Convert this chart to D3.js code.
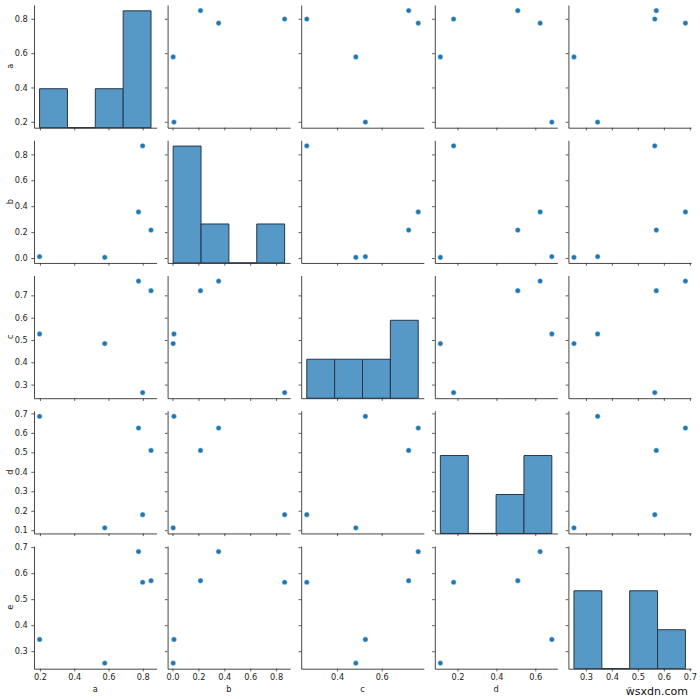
<!DOCTYPE html>
<html>
<head>
<meta charset="utf-8">
<script src="https://cdn.jsdelivr.net/npm/d3@7"></script>
<style>
  body { margin: 0; background: #fff; }
  text { font-family: "DejaVu Sans", sans-serif; }
</style>
</head>
<body>
<svg id="chart" width="700" height="699"></svg>
<script>
// variables of the pair grid, one value per observation
const VARS = ['a', 'b', 'c', 'd', 'e'];
const A = [0.198, 0.578, 0.775, 0.799, 0.848];
const B = [0.011, 0.005, 0.356, 0.866, 0.216];
const C = [0.527, 0.484, 0.764, 0.264, 0.721];
const D = [0.685, 0.112, 0.625, 0.180, 0.510];
const E = [0.345, 0.254, 0.683, 0.565, 0.571];

// tick labels per variable (x ticks are sparser, like matplotlib does it)
const A_XTICKS = [0.2, 0.4, 0.6, 0.8];
const B_XTICKS = [0.0, 0.2, 0.4, 0.6, 0.8];
const C_XTICKS = [0.4, 0.6];
const D_XTICKS = [0.2, 0.4, 0.6];
const E_XTICKS = [0.3, 0.4, 0.5, 0.6, 0.7];
const A_YTICKS = [0.2, 0.4, 0.6, 0.8];
const B_YTICKS = [0.0, 0.2, 0.4, 0.6, 0.8];
const C_YTICKS = [0.3, 0.4, 0.5, 0.6, 0.7];
const D_YTICKS = [0.1, 0.2, 0.3, 0.4, 0.5, 0.6, 0.7];
const E_YTICKS = [0.3, 0.4, 0.5, 0.6, 0.7];

const BIN_COUNT = 4;

const data = { a: A, b: B, c: C, d: D, e: E };
const xTicks = { a: A_XTICKS, b: B_XTICKS, c: C_XTICKS, d: D_XTICKS, e: E_XTICKS };
const yTicks = { a: A_YTICKS, b: B_YTICKS, c: C_YTICKS, d: D_YTICKS, e: E_YTICKS };

// grid geometry
const LEFT = 34;
const TOP = 5;
const COL_STEP = 133.6;
const ROW_STEP = 135.25;
const CELL_W = 122.6;
const CELL_H = 122.7;

const POINT_COLOR = '#1f77b4';
const HIST_FILL = '#5799c6';
const HIST_EDGE = '#26364a';
const AXIS_COLOR = '#333';
const TEXT_COLOR = '#222';
const fmt = d3.format('.1f');

const svg = d3.select('#chart');

// matplotlib style autoscale: data extent with 5% margins
function paddedDomain(values) {
  const [lo, hi] = d3.extent(values);
  const m = (hi - lo) * 0.05;
  return [lo - m, hi + m];
}

const xScales = {};
const yScales = {};
VARS.forEach((v, k) => {
  const x0 = LEFT + k * COL_STEP;
  const y0 = TOP + k * ROW_STEP;
  xScales[v] = d3.scaleLinear(paddedDomain(data[v]), [x0, x0 + CELL_W]);
  yScales[v] = d3.scaleLinear(paddedDomain(data[v]), [y0 + CELL_H, y0]);
});

// histogram bins (equal width between min and max)
const bins = {};
VARS.forEach((v) => {
  const [lo, hi] = d3.extent(data[v]);
  const step = (hi - lo) / BIN_COUNT;
  const th = d3.range(1, BIN_COUNT).map((i) => lo + i * step);
  bins[v] = d3.bin().domain([lo, hi]).thresholds(th)(data[v]);
});
// diagonal axes share their count axis
const maxCount = d3.max(VARS, (v) => d3.max(bins[v], (b) => b.length));

VARS.forEach((rowVar, i) => {
  VARS.forEach((colVar, j) => {
    const x = xScales[colVar];
    const y = yScales[rowVar];
    const [top, bottom] = [y.range()[1], y.range()[0]];
    const cell = svg.append('g');

    if (i === j) {
      const hy = d3.scaleLinear([0, maxCount * 1.05], [bottom, top]);
      // bars as closed paths so that empty bins still show their edge
      cell
        .selectAll('path.bar')
        .data(bins[colVar])
        .join('path')
        .attr('class', 'bar')
        .attr('d', (b) =>
          `M${x(b.x0)},${hy(0)}V${hy(b.length)}H${x(b.x1)}V${hy(0)}Z`)
        .attr('fill', HIST_FILL)
        .attr('stroke', HIST_EDGE)
        .attr('stroke-width', 1);
    } else {
      cell
        .selectAll('circle')
        .data(data[colVar].map((d, k) => [d, data[rowVar][k]]))
        .join('circle')
        .attr('cx', (p) => x(p[0]))
        .attr('cy', (p) => y(p[1]))
        .attr('r', 2.6)
        .attr('fill', POINT_COLOR)
        .attr('stroke', '#fff')
        .attr('stroke-width', 0.4);
    }

    // bottom axis
    const xAxis = d3
      .axisBottom(x)
      .tickValues(xTicks[colVar])
      .tickSize(2.7)
      .tickSizeOuter(0)
      .tickPadding(2.6)
      .tickFormat(i === VARS.length - 1 ? fmt : '');
    const gx = cell
      .append('g')
      .attr('transform', `translate(0,${bottom})`)
      .call(xAxis);

    // left axis
    const yAxis = d3
      .axisLeft(y)
      .tickValues(yTicks[rowVar])
      .tickSize(2.7)
      .tickSizeOuter(0)
      .tickPadding(3.5)
      .tickFormat(j === 0 ? fmt : '');
    const gy = cell
      .append('g')
      .attr('transform', `translate(${x.range()[0]},0)`)
      .call(yAxis);

    [gx, gy].forEach((g) => {
      g.select('.domain').attr('stroke', AXIS_COLOR).attr('stroke-width', 0.9);
      g.selectAll('.tick line').attr('stroke', AXIS_COLOR).attr('stroke-width', 0.8);
      g.selectAll('.tick text')
        .attr('fill', TEXT_COLOR)
        .attr('font-size', 8.2)
        .attr('font-family', '"DejaVu Sans", sans-serif');
    });
  });
});

// axis labels
VARS.forEach((v) => {
  const xr = xScales[v].range();
  svg
    .append('text')
    .attr('x', (xr[0] + xr[1]) / 2)
    .attr('y', 692)
    .attr('text-anchor', 'middle')
    .attr('font-size', 8.2)
    .attr('fill', TEXT_COLOR)
    .text(v);

  const yr = yScales[v].range();
  const cy = (yr[0] + yr[1]) / 2;
  svg
    .append('text')
    .attr('transform', `translate(13,${cy}) rotate(-90)`)
    .attr('text-anchor', 'middle')
    .attr('font-size', 8.2)
    .attr('fill', TEXT_COLOR)
    .text(v);
});

// watermark
svg
  .append('text')
  .attr('x', 688)
  .attr('y', 694.5)
  .attr('text-anchor', 'end')
  .attr('font-size', 11)
  .attr('fill', '#111')
  .attr('stroke', '#fff')
  .attr('stroke-width', 2)
  .attr('paint-order', 'stroke')
  .text('wsxdn.com');
</script>
</body>
</html>
